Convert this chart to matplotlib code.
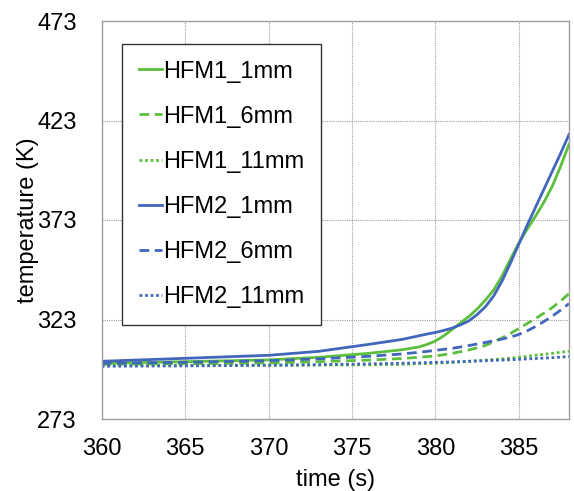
import matplotlib
matplotlib.use("Agg")
import matplotlib.pyplot as plt

time = [360, 365, 370, 373, 376, 378, 379, 379.5, 380, 380.5, 381, 381.5, 382, 382.5, 383, 383.5,
        384, 384.5, 385, 385.5, 386, 386.5, 387, 387.5, 388]
hfm1_1mm = [301, 301.8, 302.7, 304, 306, 307.8, 309.2, 310.5, 312.2, 314.8, 318, 321.3, 324.5, 328.3, 332.8, 338,
            345, 353.5, 361.5, 368.5, 375, 382, 390, 400, 411]
hfm1_6mm = [300.5, 300.8, 301.2, 301.8, 302.6, 303.4, 304, 304.35, 304.7, 305.3, 306, 306.8, 307.7, 308.8, 310, 311.8,
            313.8, 316, 318.5, 321, 323.5, 326.2, 329, 332.3, 336]
hfm1_11mm = [300, 300, 300, 300.1, 300.2, 300.5, 300.8, 300.9, 301, 301.2, 301.4, 301.7, 302, 302.3, 302.6, 302.9,
             303.2, 303.6, 304, 304.5, 305, 305.5, 306, 306.5, 307]
hfm2_1mm = [302, 303.5, 305, 307, 310.5, 313, 314.8, 315.7, 316.5, 317.5, 318.7, 320.3, 322.3, 325.5, 329.5, 335,
            342.5, 351.5, 361, 370.5, 379.5, 388.5, 397.5, 406.5, 416]
hfm2_6mm = [301, 301.5, 302.3, 303.2, 304.5, 305.7, 306.5, 307, 307.5, 308, 308.5, 309.2, 309.9, 310.7, 311.5, 312.3,
            313.2, 314.2, 315.5, 317.3, 319.5, 322, 324.7, 327.7, 331]
hfm2_11mm = [299.5, 299.7, 300, 300.3, 300.7, 301, 301.2, 301.35, 301.5, 301.6, 301.7, 301.85, 302, 302.15, 302.3, 302.45,
             302.6, 302.8, 303, 303.2, 303.4, 303.6, 303.8, 304.1, 304.4]

labels = ["HFM1_1mm", "HFM1_6mm", "HFM1_11mm", "HFM2_1mm", "HFM2_6mm", "HFM2_11mm"]
xticks = [360, 365, 370, 375, 380, 385]
yticks = [273, 323, 373, 423, 473]

green = "#5cbf3c"
blue = "#4166bb"

plt.rcParams['font.family'] = ['Liberation Sans', 'DejaVu Sans']

fig = plt.figure(figsize=(5.74, 4.91), dpi=100)
ax = fig.add_axes([101.7/574, 1-419/491, (569-101.7)/574, (419-21)/491])

series = [hfm1_1mm, hfm1_6mm, hfm1_11mm, hfm2_1mm, hfm2_6mm, hfm2_11mm]
colors = [green, green, green, blue, blue, blue]
styles = ['-', (0, (3.5, 2)), (0, (1, 1)), '-', (0, (3.5, 2)), (0, (1, 1))]
for s, c, ls, lab in zip(series, colors, styles, labels):
    ax.plot(time, s, color=c, linestyle=ls, linewidth=2.0, label=lab)

ax.set_xlim(360, 388)
ax.set_ylim(273, 473)
ax.set_xticks(xticks)
ax.set_yticks(yticks)
ax.tick_params(axis='both', length=0, labelsize=17)
ax.tick_params(axis='y', pad=18)
ax.tick_params(axis='x', pad=14)
ax.grid(True, color='#a0a0a0', linestyle=(0, (1, 1)), linewidth=0.8)
for sp in ax.spines.values():
    sp.set_color('#a0a0a0')
    sp.set_linewidth(1.0)
ax.set_xlabel("time (s)", fontsize=17, labelpad=6)
ax.set_ylabel("temperature (K)", fontsize=17, labelpad=-1.5)

leg = ax.legend(loc='upper left', bbox_to_anchor=(122/574, 1-44/491), bbox_transform=fig.transFigure,
                borderaxespad=0, fontsize=17, handlelength=1.0, handletextpad=0.05,
                labelspacing=0.98, fancybox=False, framealpha=1, edgecolor='#333333',
                borderpad=0.7)
leg.get_frame().set_linewidth(1.0)

fig.savefig("out.png", dpi=100)
